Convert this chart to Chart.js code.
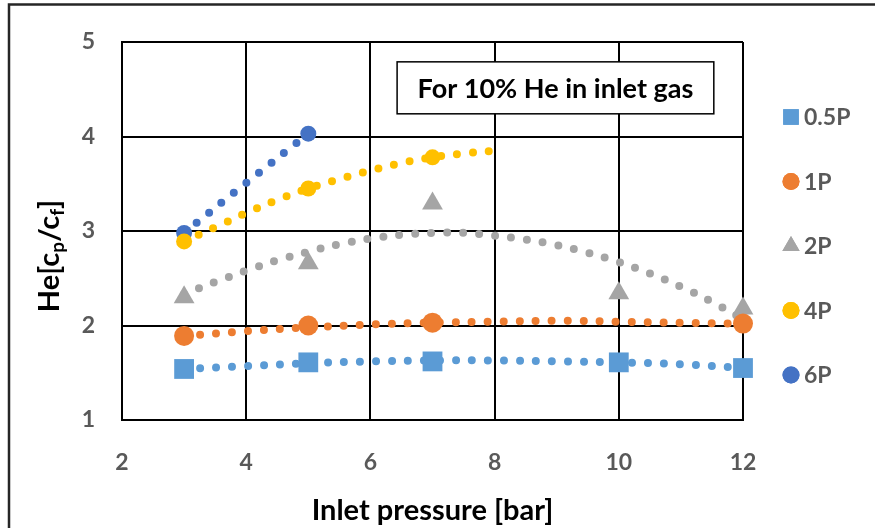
<!DOCTYPE html>
<html>
<head>
<meta charset="utf-8">
<script src="https://cdn.jsdelivr.net/npm/chart.js@4.4.0/dist/chart.umd.min.js"></script>
<style>
  html, body { margin: 0; padding: 0; background: #fff; }
  #wrap { width: 875px; height: 528px; }
</style>
</head>
<body>
<div id="wrap"><canvas id="heChart" width="875" height="528"></canvas></div>
<script>
//// data
const seriesNames = ["0.5P", "1P", "2P", "4P", "6P"];

const pressure05 = [3, 5, 7, 10, 12];
const ratio05 = [1.54, 1.61, 1.62, 1.61, 1.55];
const pressure1 = [3, 5, 7, 12];
const ratio1 = [1.89, 2.00, 2.03, 2.02];
const pressure2 = [3, 5, 7, 10, 12];
const ratio2 = [2.30, 2.66, 3.29, 2.34, 2.18];
const pressure4 = [3, 5, 7];
const ratio4 = [2.89, 3.45, 3.78];
const pressure6 = [3, 5];
const ratio6 = [2.98, 4.03];

// dotted trend lines
const trendX05 = [3, 4, 5, 6, 7, 8, 9, 10, 11, 12];
const trend05 = [1.54, 1.57, 1.60, 1.62, 1.63, 1.63, 1.62, 1.61, 1.59, 1.55];
const trendX1 = [3, 4, 5, 6, 7, 8, 9, 10, 11, 12];
const trend1 = [1.89, 1.94, 1.98, 2.01, 2.03, 2.04, 2.05, 2.04, 2.03, 2.02];
const trendX2 = [3, 3.5, 4, 4.5, 5, 5.5, 6, 6.5, 7, 7.5, 8, 8.5, 9, 9.5, 10, 10.5, 11, 11.5, 12];
const trend2 = [2.33, 2.46, 2.58, 2.69, 2.78, 2.86, 2.92, 2.96, 2.98, 2.98, 2.95, 2.91, 2.85, 2.77, 2.67, 2.55, 2.41, 2.25, 2.07];
const trendX4 = [3, 3.5, 4, 4.5, 5, 5.5, 6, 6.5, 7, 7.5, 8];
const trend4 = [2.89, 3.04, 3.19, 3.33, 3.45, 3.55, 3.64, 3.72, 3.78, 3.82, 3.85];
const trendX6 = [3, 4, 5];
const trend6 = [2.98, 3.51, 4.03];

const xTicks = [2, 4, 6, 8, 10, 12];
const yTicks = [1, 2, 3, 4, 5];
const boxText = "For 10% He in inlet gas";

//// styles
const colors = ["#5B9BD5", "#ED7D31", "#A5A5A5", "#FFC000", "#4472C4"];
const markers = ["rect", "circle", "triangle", "circle", "circle"];
const markerSizes = [14, 10, 12, 8, 8];
const legendSizes = [11, 8.5, 10, 8.5, 8.5];
const fontFamily = "Lato, 'Open Sans', sans-serif";
const tickGray = "#595959";

function toPoints(xs, ys) {
  return xs.map((x, i) => ({ x: x, y: ys[i] }));
}

const pointSets = [
  [pressure05, ratio05],
  [pressure1, ratio1],
  [pressure2, ratio2],
  [pressure4, ratio4],
  [pressure6, ratio6]
];
const trendSets = [
  [trendX05, trend05],
  [trendX1, trend1],
  [trendX2, trend2],
  [trendX4, trend4],
  [trendX6, trend6]
];

let datasets = [];
pointSets.forEach((set, i) => {
  datasets.push({
    label: seriesNames[i],
    data: toPoints(set[0], set[1]),
    showLine: false,
    pointStyle: markers[i],
    pointRadius: markerSizes[i],
    pointHoverRadius: markerSizes[i],
    pointBackgroundColor: colors[i],
    pointBorderColor: colors[i],
    pointBorderWidth: 0,
    clip: false,
    order: 0
  });
});
trendSets.forEach((set, i) => {
  datasets.push({
    label: seriesNames[i] + " trend",
    data: toPoints(set[0], set[1]),
    showLine: true,
    pointRadius: 0,
    borderColor: colors[i],
    borderWidth: 8,
    borderDash: [0, 16],
    borderCapStyle: "round",
    tension: 0.4,
    order: 1
  });
});

//// plugins
const framePlugin = {
  id: "frame",
  beforeDraw(chart) {
    const ctx = chart.ctx;
    ctx.save();
    ctx.fillStyle = "#fff";
    ctx.fillRect(0, 0, chart.width, chart.height);
    ctx.strokeStyle = "#262626";
    ctx.lineWidth = 2.5;
    ctx.strokeRect(9, 4.5, 900, 600);
    ctx.restore();
  }
};

const yTitlePlugin = {
  id: "yTitle",
  afterDraw(chart) {
    const ctx = chart.ctx;
    const parts = [
      ["He[c", false], ["p", true], ["/c", false], ["f", true], ["]", false]
    ];
    const bigFont = "bold 29px " + fontFamily;
    const smallFont = "bold 19px " + fontFamily;
    let total = 0;
    parts.forEach(p => {
      ctx.font = p[1] ? smallFont : bigFont;
      total += ctx.measureText(p[0]).width;
    });
    ctx.save();
    ctx.translate(50, 256);
    ctx.rotate(-Math.PI / 2);
    ctx.fillStyle = "#000";
    ctx.textBaseline = "middle";
    let x = -total / 2;
    parts.forEach(p => {
      ctx.font = p[1] ? smallFont : bigFont;
      ctx.fillText(p[0], x, p[1] ? 8 : 0);
      x += ctx.measureText(p[0]).width;
    });
    ctx.restore();
  }
};

const boxPlugin = {
  id: "noteBox",
  afterDraw(chart) {
    const ctx = chart.ctx;
    const xs = chart.scales.x;
    const ys = chart.scales.y;
    const left = xs.getPixelForValue(6.43);
    const right = xs.getPixelForValue(11.53);
    const top = ys.getPixelForValue(4.79);
    const bottom = ys.getPixelForValue(4.24);
    ctx.save();
    ctx.fillStyle = "#fff";
    ctx.fillRect(left, top, right - left, bottom - top);
    ctx.strokeStyle = "#000";
    ctx.lineWidth = 1.5;
    ctx.strokeRect(left, top, right - left, bottom - top);
    ctx.fillStyle = "#000";
    ctx.font = "bold 27px " + fontFamily;
    ctx.textAlign = "center";
    ctx.textBaseline = "middle";
    ctx.fillText(boxText, (left + right) / 2, (top + bottom) / 2 + 1);
    ctx.restore();
  }
};

const legendPlugin = {
  id: "sideLegend",
  afterDraw(chart) {
    const ctx = chart.ctx;
    const startY = 117;
    const stepY = 64.5;
    ctx.save();
    seriesNames.forEach((name, i) => {
      const y = startY + i * stepY;
      ctx.fillStyle = colors[i];
      ctx.strokeStyle = colors[i];
      Chart.helpers.drawPoint(ctx, {
        pointStyle: markers[i],
        radius: legendSizes[i],
        borderWidth: 0,
        rotation: 0
      }, 791, y);
      ctx.fill();
      ctx.fillStyle = tickGray;
      ctx.font = "bold 23px " + fontFamily;
      ctx.textAlign = "left";
      ctx.textBaseline = "middle";
      ctx.fillText(name, 804, y + 1);
    });
    ctx.restore();
  }
};

//// chart
const ctx = document.getElementById("heChart").getContext("2d");
const heChart = new Chart(ctx, {
  type: "scatter",
  data: { datasets: datasets },
  options: {
    responsive: false,
    animation: false,
    layout: { padding: { left: 0, right: 132, top: 42, bottom: 0 } },
    plugins: {
      legend: { display: false },
      tooltip: { enabled: false },
      title: { display: false }
    },
    scales: {
      x: {
        type: "linear",
        min: 2,
        max: 12,
        afterBuildTicks: (scale) => { scale.ticks = xTicks.map(v => ({ value: v })); },
        afterFit: (scale) => { scale.height = 108; },
        grid: { color: "#000", lineWidth: 2, drawTicks: false },
        border: { color: "#000", width: 2 },
        ticks: {
          padding: 29,
          color: tickGray,
          font: { family: fontFamily, size: 23, weight: "bold" }
        },
        title: {
          display: true,
          text: "Inlet pressure [bar]",
          color: "#000",
          font: { family: fontFamily, size: 29, weight: "bold" },
          padding: { top: 14, bottom: 0 }
        }
      },
      y: {
        type: "linear",
        min: 1,
        max: 5,
        afterBuildTicks: (scale) => { scale.ticks = yTicks.map(v => ({ value: v })); },
        afterFit: (scale) => { scale.width = 122; },
        grid: { color: "#000", lineWidth: 2, drawTicks: false },
        border: { color: "#000", width: 2 },
        ticks: {
          padding: 27,
          color: tickGray,
          font: { family: fontFamily, size: 23, weight: "bold" }
        }
      }
    }
  },
  plugins: [framePlugin, yTitlePlugin, boxPlugin, legendPlugin]
});
</script>
</body>
</html>
